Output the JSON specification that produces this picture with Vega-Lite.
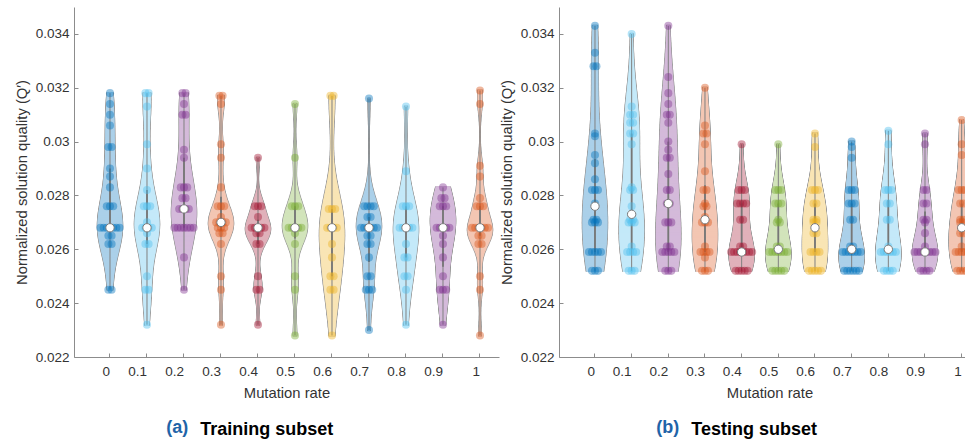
{
  "$schema": "https://vega.github.io/schema/vega-lite/v6.json",
  "padding": {"left": 14, "top": 7, "right": 0, "bottom": 0},
  "config": {
    "font": "Liberation Sans",
    "view": {"stroke": null},
    "axis": {"grid": false, "domainColor": "#8c8c8c", "tickColor": "#8c8c8c", "labelColor": "#333333", "titleColor": "#333333"},
    "concat": {"spacing": 0}
  },
  "datasets": {
    "train": [
      {"rate":0,"q":0.0318},{"rate":0,"q":0.0314},{"rate":0,"q":0.031},{"rate":0,"q":0.0306},{"rate":0,"q":0.0298},{"rate":0,"q":0.0298},{"rate":0,"q":0.029},{"rate":0,"q":0.0287},{"rate":0,"q":0.0283},{"rate":0,"q":0.0276},{"rate":0,"q":0.0276},{"rate":0,"q":0.0276},{"rate":0,"q":0.0268},{"rate":0,"q":0.0268},{"rate":0,"q":0.0268},{"rate":0,"q":0.0268},{"rate":0,"q":0.0268},{"rate":0,"q":0.0268},{"rate":0,"q":0.0268},{"rate":0,"q":0.0265},{"rate":0,"q":0.0265},{"rate":0,"q":0.0262},{"rate":0,"q":0.0262},{"rate":0,"q":0.0245},{"rate":0,"q":0.0245},
      {"rate":0.1,"q":0.0318},{"rate":0.1,"q":0.0318},{"rate":0.1,"q":0.0313},{"rate":0.1,"q":0.0299},{"rate":0.1,"q":0.029},{"rate":0.1,"q":0.0282},{"rate":0.1,"q":0.0276},{"rate":0.1,"q":0.0276},{"rate":0.1,"q":0.0276},{"rate":0.1,"q":0.027},{"rate":0.1,"q":0.0268},{"rate":0.1,"q":0.0268},{"rate":0.1,"q":0.0268},{"rate":0.1,"q":0.0268},{"rate":0.1,"q":0.0266},{"rate":0.1,"q":0.0262},{"rate":0.1,"q":0.0262},{"rate":0.1,"q":0.025},{"rate":0.1,"q":0.0245},{"rate":0.1,"q":0.0245},{"rate":0.1,"q":0.0232},
      {"rate":0.2,"q":0.0318},{"rate":0.2,"q":0.0318},{"rate":0.2,"q":0.0314},{"rate":0.2,"q":0.031},{"rate":0.2,"q":0.031},{"rate":0.2,"q":0.0297},{"rate":0.2,"q":0.0294},{"rate":0.2,"q":0.0283},{"rate":0.2,"q":0.0283},{"rate":0.2,"q":0.0283},{"rate":0.2,"q":0.0279},{"rate":0.2,"q":0.0279},{"rate":0.2,"q":0.0275},{"rate":0.2,"q":0.0275},{"rate":0.2,"q":0.0275},{"rate":0.2,"q":0.0275},{"rate":0.2,"q":0.0268},{"rate":0.2,"q":0.0268},{"rate":0.2,"q":0.0268},{"rate":0.2,"q":0.0268},{"rate":0.2,"q":0.0268},{"rate":0.2,"q":0.0268},{"rate":0.2,"q":0.0268},{"rate":0.2,"q":0.0257},{"rate":0.2,"q":0.0245},
      {"rate":0.3,"q":0.0317},{"rate":0.3,"q":0.0317},{"rate":0.3,"q":0.0314},{"rate":0.3,"q":0.0299},{"rate":0.3,"q":0.0294},{"rate":0.3,"q":0.0283},{"rate":0.3,"q":0.0276},{"rate":0.3,"q":0.0276},{"rate":0.3,"q":0.0276},{"rate":0.3,"q":0.0272},{"rate":0.3,"q":0.027},{"rate":0.3,"q":0.027},{"rate":0.3,"q":0.027},{"rate":0.3,"q":0.027},{"rate":0.3,"q":0.0268},{"rate":0.3,"q":0.0268},{"rate":0.3,"q":0.0268},{"rate":0.3,"q":0.0266},{"rate":0.3,"q":0.0266},{"rate":0.3,"q":0.0262},{"rate":0.3,"q":0.025},{"rate":0.3,"q":0.0245},{"rate":0.3,"q":0.0232},
      {"rate":0.4,"q":0.0294},{"rate":0.4,"q":0.0276},{"rate":0.4,"q":0.0276},{"rate":0.4,"q":0.0276},{"rate":0.4,"q":0.0272},{"rate":0.4,"q":0.0268},{"rate":0.4,"q":0.0268},{"rate":0.4,"q":0.0268},{"rate":0.4,"q":0.0268},{"rate":0.4,"q":0.0268},{"rate":0.4,"q":0.0266},{"rate":0.4,"q":0.0266},{"rate":0.4,"q":0.0262},{"rate":0.4,"q":0.0262},{"rate":0.4,"q":0.025},{"rate":0.4,"q":0.0245},{"rate":0.4,"q":0.0245},{"rate":0.4,"q":0.0232},
      {"rate":0.5,"q":0.0314},{"rate":0.5,"q":0.0294},{"rate":0.5,"q":0.0276},{"rate":0.5,"q":0.0276},{"rate":0.5,"q":0.0276},{"rate":0.5,"q":0.0268},{"rate":0.5,"q":0.0268},{"rate":0.5,"q":0.0268},{"rate":0.5,"q":0.0268},{"rate":0.5,"q":0.0268},{"rate":0.5,"q":0.0266},{"rate":0.5,"q":0.0262},{"rate":0.5,"q":0.025},{"rate":0.5,"q":0.0245},{"rate":0.5,"q":0.0228},
      {"rate":0.6,"q":0.0317},{"rate":0.6,"q":0.0317},{"rate":0.6,"q":0.0275},{"rate":0.6,"q":0.0275},{"rate":0.6,"q":0.0275},{"rate":0.6,"q":0.0268},{"rate":0.6,"q":0.0268},{"rate":0.6,"q":0.0268},{"rate":0.6,"q":0.0268},{"rate":0.6,"q":0.0262},{"rate":0.6,"q":0.0257},{"rate":0.6,"q":0.025},{"rate":0.6,"q":0.025},{"rate":0.6,"q":0.0245},{"rate":0.6,"q":0.0245},{"rate":0.6,"q":0.0228},
      {"rate":0.7,"q":0.0316},{"rate":0.7,"q":0.0276},{"rate":0.7,"q":0.0276},{"rate":0.7,"q":0.0276},{"rate":0.7,"q":0.0276},{"rate":0.7,"q":0.0272},{"rate":0.7,"q":0.0272},{"rate":0.7,"q":0.0268},{"rate":0.7,"q":0.0268},{"rate":0.7,"q":0.0268},{"rate":0.7,"q":0.0268},{"rate":0.7,"q":0.0268},{"rate":0.7,"q":0.0268},{"rate":0.7,"q":0.0265},{"rate":0.7,"q":0.0265},{"rate":0.7,"q":0.0262},{"rate":0.7,"q":0.0262},{"rate":0.7,"q":0.0257},{"rate":0.7,"q":0.025},{"rate":0.7,"q":0.025},{"rate":0.7,"q":0.0245},{"rate":0.7,"q":0.0245},{"rate":0.7,"q":0.0245},{"rate":0.7,"q":0.023},
      {"rate":0.8,"q":0.0313},{"rate":0.8,"q":0.0289},{"rate":0.8,"q":0.0276},{"rate":0.8,"q":0.0276},{"rate":0.8,"q":0.0276},{"rate":0.8,"q":0.0268},{"rate":0.8,"q":0.0268},{"rate":0.8,"q":0.0268},{"rate":0.8,"q":0.0268},{"rate":0.8,"q":0.0268},{"rate":0.8,"q":0.0262},{"rate":0.8,"q":0.0257},{"rate":0.8,"q":0.0257},{"rate":0.8,"q":0.025},{"rate":0.8,"q":0.025},{"rate":0.8,"q":0.0245},{"rate":0.8,"q":0.0232},
      {"rate":0.9,"q":0.0283},{"rate":0.9,"q":0.0279},{"rate":0.9,"q":0.0279},{"rate":0.9,"q":0.0276},{"rate":0.9,"q":0.0276},{"rate":0.9,"q":0.0276},{"rate":0.9,"q":0.0268},{"rate":0.9,"q":0.0268},{"rate":0.9,"q":0.0268},{"rate":0.9,"q":0.0268},{"rate":0.9,"q":0.0268},{"rate":0.9,"q":0.0265},{"rate":0.9,"q":0.0262},{"rate":0.9,"q":0.0257},{"rate":0.9,"q":0.025},{"rate":0.9,"q":0.0245},{"rate":0.9,"q":0.0245},{"rate":0.9,"q":0.0245},{"rate":0.9,"q":0.0232},
      {"rate":1,"q":0.0319},{"rate":1,"q":0.0314},{"rate":1,"q":0.0291},{"rate":1,"q":0.0287},{"rate":1,"q":0.0279},{"rate":1,"q":0.0276},{"rate":1,"q":0.0276},{"rate":1,"q":0.0276},{"rate":1,"q":0.0268},{"rate":1,"q":0.0268},{"rate":1,"q":0.0268},{"rate":1,"q":0.0268},{"rate":1,"q":0.0268},{"rate":1,"q":0.0268},{"rate":1,"q":0.0265},{"rate":1,"q":0.0265},{"rate":1,"q":0.0262},{"rate":1,"q":0.0262},{"rate":1,"q":0.025},{"rate":1,"q":0.0245},{"rate":1,"q":0.0228}
    ],
    "test": [
      {"rate":0,"q":0.0343},{"rate":0,"q":0.0333},{"rate":0,"q":0.0328},{"rate":0,"q":0.0328},{"rate":0,"q":0.0303},{"rate":0,"q":0.0302},{"rate":0,"q":0.0295},{"rate":0,"q":0.0292},{"rate":0,"q":0.0286},{"rate":0,"q":0.0282},{"rate":0,"q":0.0282},{"rate":0,"q":0.0282},{"rate":0,"q":0.0277},{"rate":0,"q":0.0276},{"rate":0,"q":0.0271},{"rate":0,"q":0.0271},{"rate":0,"q":0.027},{"rate":0,"q":0.027},{"rate":0,"q":0.027},{"rate":0,"q":0.0259},{"rate":0,"q":0.0259},{"rate":0,"q":0.0259},{"rate":0,"q":0.0259},{"rate":0,"q":0.0259},{"rate":0,"q":0.0252},{"rate":0,"q":0.0252},{"rate":0,"q":0.0252},
      {"rate":0.1,"q":0.034},{"rate":0.1,"q":0.0313},{"rate":0.1,"q":0.031},{"rate":0.1,"q":0.031},{"rate":0.1,"q":0.0307},{"rate":0.1,"q":0.0307},{"rate":0.1,"q":0.0303},{"rate":0.1,"q":0.0303},{"rate":0.1,"q":0.0299},{"rate":0.1,"q":0.0283},{"rate":0.1,"q":0.0282},{"rate":0.1,"q":0.0282},{"rate":0.1,"q":0.0276},{"rate":0.1,"q":0.0273},{"rate":0.1,"q":0.0271},{"rate":0.1,"q":0.0271},{"rate":0.1,"q":0.027},{"rate":0.1,"q":0.027},{"rate":0.1,"q":0.027},{"rate":0.1,"q":0.0261},{"rate":0.1,"q":0.0259},{"rate":0.1,"q":0.0259},{"rate":0.1,"q":0.0259},{"rate":0.1,"q":0.0259},{"rate":0.1,"q":0.0252},{"rate":0.1,"q":0.0252},{"rate":0.1,"q":0.0252},
      {"rate":0.2,"q":0.0343},{"rate":0.2,"q":0.0324},{"rate":0.2,"q":0.0318},{"rate":0.2,"q":0.0314},{"rate":0.2,"q":0.031},{"rate":0.2,"q":0.031},{"rate":0.2,"q":0.0307},{"rate":0.2,"q":0.03},{"rate":0.2,"q":0.0297},{"rate":0.2,"q":0.0294},{"rate":0.2,"q":0.0294},{"rate":0.2,"q":0.0288},{"rate":0.2,"q":0.0282},{"rate":0.2,"q":0.0282},{"rate":0.2,"q":0.0277},{"rate":0.2,"q":0.0277},{"rate":0.2,"q":0.027},{"rate":0.2,"q":0.027},{"rate":0.2,"q":0.027},{"rate":0.2,"q":0.0261},{"rate":0.2,"q":0.0261},{"rate":0.2,"q":0.0259},{"rate":0.2,"q":0.0259},{"rate":0.2,"q":0.0259},{"rate":0.2,"q":0.0259},{"rate":0.2,"q":0.0259},{"rate":0.2,"q":0.0252},{"rate":0.2,"q":0.0252},{"rate":0.2,"q":0.0252},
      {"rate":0.3,"q":0.032},{"rate":0.3,"q":0.0306},{"rate":0.3,"q":0.0303},{"rate":0.3,"q":0.0303},{"rate":0.3,"q":0.0299},{"rate":0.3,"q":0.0289},{"rate":0.3,"q":0.0282},{"rate":0.3,"q":0.0282},{"rate":0.3,"q":0.0277},{"rate":0.3,"q":0.0276},{"rate":0.3,"q":0.0276},{"rate":0.3,"q":0.0272},{"rate":0.3,"q":0.027},{"rate":0.3,"q":0.027},{"rate":0.3,"q":0.027},{"rate":0.3,"q":0.0261},{"rate":0.3,"q":0.0259},{"rate":0.3,"q":0.0259},{"rate":0.3,"q":0.0259},{"rate":0.3,"q":0.0259},{"rate":0.3,"q":0.0257},{"rate":0.3,"q":0.0252},{"rate":0.3,"q":0.0252},{"rate":0.3,"q":0.0252},
      {"rate":0.4,"q":0.0299},{"rate":0.4,"q":0.0282},{"rate":0.4,"q":0.0282},{"rate":0.4,"q":0.0282},{"rate":0.4,"q":0.0277},{"rate":0.4,"q":0.0277},{"rate":0.4,"q":0.0277},{"rate":0.4,"q":0.0277},{"rate":0.4,"q":0.0271},{"rate":0.4,"q":0.0271},{"rate":0.4,"q":0.0261},{"rate":0.4,"q":0.0261},{"rate":0.4,"q":0.0259},{"rate":0.4,"q":0.0259},{"rate":0.4,"q":0.0259},{"rate":0.4,"q":0.0259},{"rate":0.4,"q":0.0259},{"rate":0.4,"q":0.0259},{"rate":0.4,"q":0.0259},{"rate":0.4,"q":0.0259},{"rate":0.4,"q":0.0252},{"rate":0.4,"q":0.0252},{"rate":0.4,"q":0.0252},{"rate":0.4,"q":0.0252},{"rate":0.4,"q":0.0252},
      {"rate":0.5,"q":0.0299},{"rate":0.5,"q":0.0282},{"rate":0.5,"q":0.0282},{"rate":0.5,"q":0.0282},{"rate":0.5,"q":0.0277},{"rate":0.5,"q":0.0277},{"rate":0.5,"q":0.0277},{"rate":0.5,"q":0.0271},{"rate":0.5,"q":0.027},{"rate":0.5,"q":0.027},{"rate":0.5,"q":0.0261},{"rate":0.5,"q":0.0261},{"rate":0.5,"q":0.0259},{"rate":0.5,"q":0.0259},{"rate":0.5,"q":0.0259},{"rate":0.5,"q":0.0259},{"rate":0.5,"q":0.0259},{"rate":0.5,"q":0.0259},{"rate":0.5,"q":0.0259},{"rate":0.5,"q":0.0252},{"rate":0.5,"q":0.0252},{"rate":0.5,"q":0.0252},{"rate":0.5,"q":0.0252},{"rate":0.5,"q":0.0252},
      {"rate":0.6,"q":0.0303},{"rate":0.6,"q":0.0298},{"rate":0.6,"q":0.0282},{"rate":0.6,"q":0.0282},{"rate":0.6,"q":0.0282},{"rate":0.6,"q":0.0277},{"rate":0.6,"q":0.0277},{"rate":0.6,"q":0.0271},{"rate":0.6,"q":0.0271},{"rate":0.6,"q":0.027},{"rate":0.6,"q":0.027},{"rate":0.6,"q":0.0266},{"rate":0.6,"q":0.0266},{"rate":0.6,"q":0.0259},{"rate":0.6,"q":0.0259},{"rate":0.6,"q":0.0259},{"rate":0.6,"q":0.0259},{"rate":0.6,"q":0.0252},{"rate":0.6,"q":0.0252},{"rate":0.6,"q":0.0252},{"rate":0.6,"q":0.0252},{"rate":0.6,"q":0.0252},
      {"rate":0.7,"q":0.03},{"rate":0.7,"q":0.0298},{"rate":0.7,"q":0.0294},{"rate":0.7,"q":0.0282},{"rate":0.7,"q":0.0282},{"rate":0.7,"q":0.0282},{"rate":0.7,"q":0.0277},{"rate":0.7,"q":0.0277},{"rate":0.7,"q":0.0277},{"rate":0.7,"q":0.0271},{"rate":0.7,"q":0.0271},{"rate":0.7,"q":0.0261},{"rate":0.7,"q":0.0261},{"rate":0.7,"q":0.0259},{"rate":0.7,"q":0.0259},{"rate":0.7,"q":0.0259},{"rate":0.7,"q":0.0259},{"rate":0.7,"q":0.0259},{"rate":0.7,"q":0.0259},{"rate":0.7,"q":0.0259},{"rate":0.7,"q":0.0252},{"rate":0.7,"q":0.0252},{"rate":0.7,"q":0.0252},{"rate":0.7,"q":0.0252},{"rate":0.7,"q":0.0252},{"rate":0.7,"q":0.0252},
      {"rate":0.8,"q":0.0304},{"rate":0.8,"q":0.0299},{"rate":0.8,"q":0.0282},{"rate":0.8,"q":0.0282},{"rate":0.8,"q":0.0282},{"rate":0.8,"q":0.0277},{"rate":0.8,"q":0.0277},{"rate":0.8,"q":0.0271},{"rate":0.8,"q":0.0271},{"rate":0.8,"q":0.0261},{"rate":0.8,"q":0.0259},{"rate":0.8,"q":0.0259},{"rate":0.8,"q":0.0259},{"rate":0.8,"q":0.0259},{"rate":0.8,"q":0.0259},{"rate":0.8,"q":0.0259},{"rate":0.8,"q":0.0252},{"rate":0.8,"q":0.0252},{"rate":0.8,"q":0.0252},{"rate":0.8,"q":0.0252},
      {"rate":0.9,"q":0.0303},{"rate":0.9,"q":0.0299},{"rate":0.9,"q":0.0282},{"rate":0.9,"q":0.0282},{"rate":0.9,"q":0.0277},{"rate":0.9,"q":0.0277},{"rate":0.9,"q":0.0271},{"rate":0.9,"q":0.0271},{"rate":0.9,"q":0.027},{"rate":0.9,"q":0.0266},{"rate":0.9,"q":0.0261},{"rate":0.9,"q":0.0259},{"rate":0.9,"q":0.0259},{"rate":0.9,"q":0.0259},{"rate":0.9,"q":0.0259},{"rate":0.9,"q":0.0259},{"rate":0.9,"q":0.0259},{"rate":0.9,"q":0.0259},{"rate":0.9,"q":0.0259},{"rate":0.9,"q":0.0252},{"rate":0.9,"q":0.0252},{"rate":0.9,"q":0.0252},{"rate":0.9,"q":0.0252},
      {"rate":1,"q":0.0308},{"rate":1,"q":0.0299},{"rate":1,"q":0.0295},{"rate":1,"q":0.0282},{"rate":1,"q":0.0282},{"rate":1,"q":0.0282},{"rate":1,"q":0.0277},{"rate":1,"q":0.0277},{"rate":1,"q":0.0271},{"rate":1,"q":0.0271},{"rate":1,"q":0.027},{"rate":1,"q":0.027},{"rate":1,"q":0.0268},{"rate":1,"q":0.0266},{"rate":1,"q":0.0266},{"rate":1,"q":0.0261},{"rate":1,"q":0.0259},{"rate":1,"q":0.0259},{"rate":1,"q":0.0259},{"rate":1,"q":0.0259},{"rate":1,"q":0.0259},{"rate":1,"q":0.0252},{"rate":1,"q":0.0252},{"rate":1,"q":0.0252},{"rate":1,"q":0.0252}
    ]
  },
  "hconcat": [
    {
      "title": {"text": "(a)", "orient": "bottom", "anchor": "start", "color": "#1f64a8", "fontSize": 18, "fontWeight": "bold", "dx": 152, "dy": -24},
      "vconcat": [
        {
          "data": {"name": "train"},
          "width": 425, "height": 350,
          "title": {"text": "Training subset", "orient": "bottom", "anchor": "start", "color": "#000000", "fontSize": 18, "fontWeight": "bold", "dx": 186, "offset": 21},
          "resolve": {"scale": {"size": "independent"}},
          "layer": [
            {"transform": [{"filter": {"field": "rate", "equal": 0}}, {"density": "q", "groupby": ["rate"], "steps": 200, "as": ["value", "density"]}], "resolve": {"scale": {"size": "independent"}}, "layer": [
              {"mark": {"type": "tick", "orient": "horizontal", "thickness": 2, "color": "#8f8f8f", "opacity": 1}, "encoding": {"x": {"field": "rate", "type": "ordinal"}, "y": {"field": "value", "type": "quantitative", "scale": {"domain": [0.022, 0.035], "nice": false, "zero": false}}, "size": {"field": "density", "type": "quantitative", "scale": {"range": [1.4, 26.4]}, "legend": null}}},
              {"mark": {"type": "tick", "orient": "horizontal", "thickness": 2.4, "color": "#ABD0E9", "opacity": 1}, "encoding": {"x": {"field": "rate", "type": "ordinal"}, "y": {"field": "value", "type": "quantitative", "scale": {"domain": [0.022, 0.035], "nice": false, "zero": false}}, "size": {"field": "density", "type": "quantitative", "scale": {"range": [0, 25]}, "legend": null}}}]},
            {"transform": [{"filter": {"field": "rate", "equal": 0.1}}, {"density": "q", "groupby": ["rate"], "steps": 200, "as": ["value", "density"]}], "resolve": {"scale": {"size": "independent"}}, "layer": [
              {"mark": {"type": "tick", "orient": "horizontal", "thickness": 2, "color": "#8f8f8f", "opacity": 1}, "encoding": {"x": {"field": "rate", "type": "ordinal"}, "y": {"field": "value", "type": "quantitative", "scale": {"domain": [0.022, 0.035], "nice": false, "zero": false}}, "size": {"field": "density", "type": "quantitative", "scale": {"range": [1.4, 26.4]}, "legend": null}}},
              {"mark": {"type": "tick", "orient": "horizontal", "thickness": 2.4, "color": "#C4E9F9", "opacity": 1}, "encoding": {"x": {"field": "rate", "type": "ordinal"}, "y": {"field": "value", "type": "quantitative", "scale": {"domain": [0.022, 0.035], "nice": false, "zero": false}}, "size": {"field": "density", "type": "quantitative", "scale": {"range": [0, 25]}, "legend": null}}}]},
            {"transform": [{"filter": {"field": "rate", "equal": 0.2}}, {"density": "q", "groupby": ["rate"], "steps": 200, "as": ["value", "density"]}], "resolve": {"scale": {"size": "independent"}}, "layer": [
              {"mark": {"type": "tick", "orient": "horizontal", "thickness": 2, "color": "#8f8f8f", "opacity": 1}, "encoding": {"x": {"field": "rate", "type": "ordinal"}, "y": {"field": "value", "type": "quantitative", "scale": {"domain": [0.022, 0.035], "nice": false, "zero": false}}, "size": {"field": "density", "type": "quantitative", "scale": {"range": [1.4, 26.4]}, "legend": null}}},
              {"mark": {"type": "tick", "orient": "horizontal", "thickness": 2.4, "color": "#D4BADA", "opacity": 1}, "encoding": {"x": {"field": "rate", "type": "ordinal"}, "y": {"field": "value", "type": "quantitative", "scale": {"domain": [0.022, 0.035], "nice": false, "zero": false}}, "size": {"field": "density", "type": "quantitative", "scale": {"range": [0, 25]}, "legend": null}}}]},
            {"transform": [{"filter": {"field": "rate", "equal": 0.3}}, {"density": "q", "groupby": ["rate"], "steps": 200, "as": ["value", "density"]}], "resolve": {"scale": {"size": "independent"}}, "layer": [
              {"mark": {"type": "tick", "orient": "horizontal", "thickness": 2, "color": "#8f8f8f", "opacity": 1}, "encoding": {"x": {"field": "rate", "type": "ordinal"}, "y": {"field": "value", "type": "quantitative", "scale": {"domain": [0.022, 0.035], "nice": false, "zero": false}}, "size": {"field": "density", "type": "quantitative", "scale": {"range": [1.4, 26.4]}, "legend": null}}},
              {"mark": {"type": "tick", "orient": "horizontal", "thickness": 2.4, "color": "#F3C6B3", "opacity": 1}, "encoding": {"x": {"field": "rate", "type": "ordinal"}, "y": {"field": "value", "type": "quantitative", "scale": {"domain": [0.022, 0.035], "nice": false, "zero": false}}, "size": {"field": "density", "type": "quantitative", "scale": {"range": [0, 25]}, "legend": null}}}]},
            {"transform": [{"filter": {"field": "rate", "equal": 0.4}}, {"density": "q", "groupby": ["rate"], "steps": 200, "as": ["value", "density"]}], "resolve": {"scale": {"size": "independent"}}, "layer": [
              {"mark": {"type": "tick", "orient": "horizontal", "thickness": 2, "color": "#8f8f8f", "opacity": 1}, "encoding": {"x": {"field": "rate", "type": "ordinal"}, "y": {"field": "value", "type": "quantitative", "scale": {"domain": [0.022, 0.035], "nice": false, "zero": false}}, "size": {"field": "density", "type": "quantitative", "scale": {"range": [1.4, 26.4]}, "legend": null}}},
              {"mark": {"type": "tick", "orient": "horizontal", "thickness": 2.4, "color": "#E0B1BA", "opacity": 1}, "encoding": {"x": {"field": "rate", "type": "ordinal"}, "y": {"field": "value", "type": "quantitative", "scale": {"domain": [0.022, 0.035], "nice": false, "zero": false}}, "size": {"field": "density", "type": "quantitative", "scale": {"range": [0, 25]}, "legend": null}}}]},
            {"transform": [{"filter": {"field": "rate", "equal": 0.5}}, {"density": "q", "groupby": ["rate"], "steps": 200, "as": ["value", "density"]}], "resolve": {"scale": {"size": "independent"}}, "layer": [
              {"mark": {"type": "tick", "orient": "horizontal", "thickness": 2, "color": "#8f8f8f", "opacity": 1}, "encoding": {"x": {"field": "rate", "type": "ordinal"}, "y": {"field": "value", "type": "quantitative", "scale": {"domain": [0.022, 0.035], "nice": false, "zero": false}}, "size": {"field": "density", "type": "quantitative", "scale": {"range": [1.4, 26.4]}, "legend": null}}},
              {"mark": {"type": "tick", "orient": "horizontal", "thickness": 2.4, "color": "#D2E4BB", "opacity": 1}, "encoding": {"x": {"field": "rate", "type": "ordinal"}, "y": {"field": "value", "type": "quantitative", "scale": {"domain": [0.022, 0.035], "nice": false, "zero": false}}, "size": {"field": "density", "type": "quantitative", "scale": {"range": [0, 25]}, "legend": null}}}]},
            {"transform": [{"filter": {"field": "rate", "equal": 0.6}}, {"density": "q", "groupby": ["rate"], "steps": 200, "as": ["value", "density"]}], "resolve": {"scale": {"size": "independent"}}, "layer": [
              {"mark": {"type": "tick", "orient": "horizontal", "thickness": 2, "color": "#8f8f8f", "opacity": 1}, "encoding": {"x": {"field": "rate", "type": "ordinal"}, "y": {"field": "value", "type": "quantitative", "scale": {"domain": [0.022, 0.035], "nice": false, "zero": false}}, "size": {"field": "density", "type": "quantitative", "scale": {"range": [1.4, 26.4]}, "legend": null}}},
              {"mark": {"type": "tick", "orient": "horizontal", "thickness": 2.4, "color": "#F9E5B5", "opacity": 1}, "encoding": {"x": {"field": "rate", "type": "ordinal"}, "y": {"field": "value", "type": "quantitative", "scale": {"domain": [0.022, 0.035], "nice": false, "zero": false}}, "size": {"field": "density", "type": "quantitative", "scale": {"range": [0, 25]}, "legend": null}}}]},
            {"transform": [{"filter": {"field": "rate", "equal": 0.7}}, {"density": "q", "groupby": ["rate"], "steps": 200, "as": ["value", "density"]}], "resolve": {"scale": {"size": "independent"}}, "layer": [
              {"mark": {"type": "tick", "orient": "horizontal", "thickness": 2, "color": "#8f8f8f", "opacity": 1}, "encoding": {"x": {"field": "rate", "type": "ordinal"}, "y": {"field": "value", "type": "quantitative", "scale": {"domain": [0.022, 0.035], "nice": false, "zero": false}}, "size": {"field": "density", "type": "quantitative", "scale": {"range": [1.4, 26.4]}, "legend": null}}},
              {"mark": {"type": "tick", "orient": "horizontal", "thickness": 2.4, "color": "#ABD0E9", "opacity": 1}, "encoding": {"x": {"field": "rate", "type": "ordinal"}, "y": {"field": "value", "type": "quantitative", "scale": {"domain": [0.022, 0.035], "nice": false, "zero": false}}, "size": {"field": "density", "type": "quantitative", "scale": {"range": [0, 25]}, "legend": null}}}]},
            {"transform": [{"filter": {"field": "rate", "equal": 0.8}}, {"density": "q", "groupby": ["rate"], "steps": 200, "as": ["value", "density"]}], "resolve": {"scale": {"size": "independent"}}, "layer": [
              {"mark": {"type": "tick", "orient": "horizontal", "thickness": 2, "color": "#8f8f8f", "opacity": 1}, "encoding": {"x": {"field": "rate", "type": "ordinal"}, "y": {"field": "value", "type": "quantitative", "scale": {"domain": [0.022, 0.035], "nice": false, "zero": false}}, "size": {"field": "density", "type": "quantitative", "scale": {"range": [1.4, 26.4]}, "legend": null}}},
              {"mark": {"type": "tick", "orient": "horizontal", "thickness": 2.4, "color": "#C4E9F9", "opacity": 1}, "encoding": {"x": {"field": "rate", "type": "ordinal"}, "y": {"field": "value", "type": "quantitative", "scale": {"domain": [0.022, 0.035], "nice": false, "zero": false}}, "size": {"field": "density", "type": "quantitative", "scale": {"range": [0, 25]}, "legend": null}}}]},
            {"transform": [{"filter": {"field": "rate", "equal": 0.9}}, {"density": "q", "groupby": ["rate"], "steps": 200, "as": ["value", "density"]}], "resolve": {"scale": {"size": "independent"}}, "layer": [
              {"mark": {"type": "tick", "orient": "horizontal", "thickness": 2, "color": "#8f8f8f", "opacity": 1}, "encoding": {"x": {"field": "rate", "type": "ordinal"}, "y": {"field": "value", "type": "quantitative", "scale": {"domain": [0.022, 0.035], "nice": false, "zero": false}}, "size": {"field": "density", "type": "quantitative", "scale": {"range": [1.4, 26.4]}, "legend": null}}},
              {"mark": {"type": "tick", "orient": "horizontal", "thickness": 2.4, "color": "#D4BADA", "opacity": 1}, "encoding": {"x": {"field": "rate", "type": "ordinal"}, "y": {"field": "value", "type": "quantitative", "scale": {"domain": [0.022, 0.035], "nice": false, "zero": false}}, "size": {"field": "density", "type": "quantitative", "scale": {"range": [0, 25]}, "legend": null}}}]},
            {"transform": [{"filter": {"field": "rate", "equal": 1}}, {"density": "q", "groupby": ["rate"], "steps": 200, "as": ["value", "density"]}], "resolve": {"scale": {"size": "independent"}}, "layer": [
              {"mark": {"type": "tick", "orient": "horizontal", "thickness": 2, "color": "#8f8f8f", "opacity": 1}, "encoding": {"x": {"field": "rate", "type": "ordinal"}, "y": {"field": "value", "type": "quantitative", "scale": {"domain": [0.022, 0.035], "nice": false, "zero": false}}, "size": {"field": "density", "type": "quantitative", "scale": {"range": [1.4, 26.4]}, "legend": null}}},
              {"mark": {"type": "tick", "orient": "horizontal", "thickness": 2.4, "color": "#F3C6B3", "opacity": 1}, "encoding": {"x": {"field": "rate", "type": "ordinal"}, "y": {"field": "value", "type": "quantitative", "scale": {"domain": [0.022, 0.035], "nice": false, "zero": false}}, "size": {"field": "density", "type": "quantitative", "scale": {"range": [0, 25]}, "legend": null}}}]},
            {
              "transform": [{"aggregate": [{"op": "min", "field": "q", "as": "lo"}, {"op": "max", "field": "q", "as": "hi"}, {"op": "q1", "field": "q", "as": "b1"}, {"op": "q3", "field": "q", "as": "b3"}], "groupby": ["rate"]}],
              "layer": [
                {"mark": {"type": "rule", "color": "#808080", "strokeWidth": 1}, "encoding": {"x": {"field": "rate", "type": "ordinal"}, "y": {"field": "lo", "type": "quantitative", "scale": {"domain": [0.022, 0.035], "nice": false, "zero": false}}, "y2": {"field": "hi"}}},
                {"mark": {"type": "rule", "color": "#777777", "strokeWidth": 1.8}, "encoding": {"x": {"field": "rate", "type": "ordinal"}, "y": {"field": "b1", "type": "quantitative", "scale": {"domain": [0.022, 0.035], "nice": false, "zero": false}}, "y2": {"field": "b3"}}}
              ]
            },
            {
              "transform": [
                {"window": [{"op": "count", "as": "one"}], "frame": [0, 0], "groupby": ["rate"]},
                {"stack": "one", "groupby": ["rate", "q"], "offset": "center", "as": ["s0", "s1"]}
              ],
              "mark": {"type": "circle", "size": 65, "opacity": 0.42, "xOffset": {"expr": "(datum.s0 - 3) * 3.2"}},
              "encoding": {
                "x": {"field": "rate", "type": "ordinal", "scale": {"type": "band", "paddingInner": 0, "paddingOuter": 0.2432, "align": 0.972},
                  "axis": {"title": "Mutation rate", "labelAngle": 0, "tickSize": -4, "labelPadding": 18, "labelFontSize": 13.5, "titleFontSize": 14.8, "titleFontWeight": "normal", "titlePadding": 8}},
                "y": {"field": "q", "type": "quantitative", "scale": {"domain": [0.022, 0.035], "nice": false, "zero": false},
                  "axis": {"title": "Normalized solution quality (Q′)", "values": [0.022, 0.024, 0.026, 0.028, 0.03, 0.032, 0.034], "format": ".3~f", "tickSize": -4, "labelPadding": 9, "labelFontSize": 13.5, "titleFontSize": 14.8, "titleFontWeight": "normal", "titlePadding": 6}},
                "color": {"field": "rate", "type": "nominal", "legend": null, "scale": {"domain": [0, 0.1, 0.2, 0.3, 0.4, 0.5, 0.6, 0.7, 0.8, 0.9, 1], "range": ["#0072BD", "#4DBEEE", "#7E2F8E", "#D95319", "#A2142F", "#77AC30", "#EDB120", "#0072BD", "#4DBEEE", "#7E2F8E", "#D95319"]}}
              }
            },
            {
              "transform": [{"aggregate": [{"op": "median", "field": "q", "as": "med"}], "groupby": ["rate"]}],
              "mark": {"type": "point", "filled": true, "fill": "#ffffff", "stroke": "#7a7a7a", "strokeWidth": 1, "size": 70, "opacity": 1},
              "encoding": {"x": {"field": "rate", "type": "ordinal"}, "y": {"field": "med", "type": "quantitative", "scale": {"domain": [0.022, 0.035], "nice": false, "zero": false}}}
            }
          ]
        }
      ]
    },
    {
      "title": {"text": "(b)", "orient": "bottom", "anchor": "start", "color": "#1f64a8", "fontSize": 18, "fontWeight": "bold", "dx": 157, "dy": -24},
      "vconcat": [
        {
          "data": {"name": "test"},
          "width": 421, "height": 350,
          "title": {"text": "Testing subset", "orient": "bottom", "anchor": "start", "color": "#000000", "fontSize": 18, "fontWeight": "bold", "dx": 192, "offset": 21},
          "resolve": {"scale": {"size": "independent"}},
          "layer": [
            {"transform": [{"filter": {"field": "rate", "equal": 0}}, {"density": "q", "groupby": ["rate"], "steps": 200, "as": ["value", "density"]}], "resolve": {"scale": {"size": "independent"}}, "layer": [
              {"mark": {"type": "tick", "orient": "horizontal", "thickness": 2, "color": "#8f8f8f", "opacity": 1}, "encoding": {"x": {"field": "rate", "type": "ordinal"}, "y": {"field": "value", "type": "quantitative", "scale": {"domain": [0.022, 0.035], "nice": false, "zero": false}}, "size": {"field": "density", "type": "quantitative", "scale": {"range": [1.4, 26.4]}, "legend": null}}},
              {"mark": {"type": "tick", "orient": "horizontal", "thickness": 2.4, "color": "#ABD0E9", "opacity": 1}, "encoding": {"x": {"field": "rate", "type": "ordinal"}, "y": {"field": "value", "type": "quantitative", "scale": {"domain": [0.022, 0.035], "nice": false, "zero": false}}, "size": {"field": "density", "type": "quantitative", "scale": {"range": [0, 25]}, "legend": null}}}]},
            {"transform": [{"filter": {"field": "rate", "equal": 0.1}}, {"density": "q", "groupby": ["rate"], "steps": 200, "as": ["value", "density"]}], "resolve": {"scale": {"size": "independent"}}, "layer": [
              {"mark": {"type": "tick", "orient": "horizontal", "thickness": 2, "color": "#8f8f8f", "opacity": 1}, "encoding": {"x": {"field": "rate", "type": "ordinal"}, "y": {"field": "value", "type": "quantitative", "scale": {"domain": [0.022, 0.035], "nice": false, "zero": false}}, "size": {"field": "density", "type": "quantitative", "scale": {"range": [1.4, 26.4]}, "legend": null}}},
              {"mark": {"type": "tick", "orient": "horizontal", "thickness": 2.4, "color": "#C4E9F9", "opacity": 1}, "encoding": {"x": {"field": "rate", "type": "ordinal"}, "y": {"field": "value", "type": "quantitative", "scale": {"domain": [0.022, 0.035], "nice": false, "zero": false}}, "size": {"field": "density", "type": "quantitative", "scale": {"range": [0, 25]}, "legend": null}}}]},
            {"transform": [{"filter": {"field": "rate", "equal": 0.2}}, {"density": "q", "groupby": ["rate"], "steps": 200, "as": ["value", "density"]}], "resolve": {"scale": {"size": "independent"}}, "layer": [
              {"mark": {"type": "tick", "orient": "horizontal", "thickness": 2, "color": "#8f8f8f", "opacity": 1}, "encoding": {"x": {"field": "rate", "type": "ordinal"}, "y": {"field": "value", "type": "quantitative", "scale": {"domain": [0.022, 0.035], "nice": false, "zero": false}}, "size": {"field": "density", "type": "quantitative", "scale": {"range": [1.4, 26.4]}, "legend": null}}},
              {"mark": {"type": "tick", "orient": "horizontal", "thickness": 2.4, "color": "#D4BADA", "opacity": 1}, "encoding": {"x": {"field": "rate", "type": "ordinal"}, "y": {"field": "value", "type": "quantitative", "scale": {"domain": [0.022, 0.035], "nice": false, "zero": false}}, "size": {"field": "density", "type": "quantitative", "scale": {"range": [0, 25]}, "legend": null}}}]},
            {"transform": [{"filter": {"field": "rate", "equal": 0.3}}, {"density": "q", "groupby": ["rate"], "steps": 200, "as": ["value", "density"]}], "resolve": {"scale": {"size": "independent"}}, "layer": [
              {"mark": {"type": "tick", "orient": "horizontal", "thickness": 2, "color": "#8f8f8f", "opacity": 1}, "encoding": {"x": {"field": "rate", "type": "ordinal"}, "y": {"field": "value", "type": "quantitative", "scale": {"domain": [0.022, 0.035], "nice": false, "zero": false}}, "size": {"field": "density", "type": "quantitative", "scale": {"range": [1.4, 26.4]}, "legend": null}}},
              {"mark": {"type": "tick", "orient": "horizontal", "thickness": 2.4, "color": "#F3C6B3", "opacity": 1}, "encoding": {"x": {"field": "rate", "type": "ordinal"}, "y": {"field": "value", "type": "quantitative", "scale": {"domain": [0.022, 0.035], "nice": false, "zero": false}}, "size": {"field": "density", "type": "quantitative", "scale": {"range": [0, 25]}, "legend": null}}}]},
            {"transform": [{"filter": {"field": "rate", "equal": 0.4}}, {"density": "q", "groupby": ["rate"], "steps": 200, "as": ["value", "density"]}], "resolve": {"scale": {"size": "independent"}}, "layer": [
              {"mark": {"type": "tick", "orient": "horizontal", "thickness": 2, "color": "#8f8f8f", "opacity": 1}, "encoding": {"x": {"field": "rate", "type": "ordinal"}, "y": {"field": "value", "type": "quantitative", "scale": {"domain": [0.022, 0.035], "nice": false, "zero": false}}, "size": {"field": "density", "type": "quantitative", "scale": {"range": [1.4, 26.4]}, "legend": null}}},
              {"mark": {"type": "tick", "orient": "horizontal", "thickness": 2.4, "color": "#E0B1BA", "opacity": 1}, "encoding": {"x": {"field": "rate", "type": "ordinal"}, "y": {"field": "value", "type": "quantitative", "scale": {"domain": [0.022, 0.035], "nice": false, "zero": false}}, "size": {"field": "density", "type": "quantitative", "scale": {"range": [0, 25]}, "legend": null}}}]},
            {"transform": [{"filter": {"field": "rate", "equal": 0.5}}, {"density": "q", "groupby": ["rate"], "steps": 200, "as": ["value", "density"]}], "resolve": {"scale": {"size": "independent"}}, "layer": [
              {"mark": {"type": "tick", "orient": "horizontal", "thickness": 2, "color": "#8f8f8f", "opacity": 1}, "encoding": {"x": {"field": "rate", "type": "ordinal"}, "y": {"field": "value", "type": "quantitative", "scale": {"domain": [0.022, 0.035], "nice": false, "zero": false}}, "size": {"field": "density", "type": "quantitative", "scale": {"range": [1.4, 26.4]}, "legend": null}}},
              {"mark": {"type": "tick", "orient": "horizontal", "thickness": 2.4, "color": "#D2E4BB", "opacity": 1}, "encoding": {"x": {"field": "rate", "type": "ordinal"}, "y": {"field": "value", "type": "quantitative", "scale": {"domain": [0.022, 0.035], "nice": false, "zero": false}}, "size": {"field": "density", "type": "quantitative", "scale": {"range": [0, 25]}, "legend": null}}}]},
            {"transform": [{"filter": {"field": "rate", "equal": 0.6}}, {"density": "q", "groupby": ["rate"], "steps": 200, "as": ["value", "density"]}], "resolve": {"scale": {"size": "independent"}}, "layer": [
              {"mark": {"type": "tick", "orient": "horizontal", "thickness": 2, "color": "#8f8f8f", "opacity": 1}, "encoding": {"x": {"field": "rate", "type": "ordinal"}, "y": {"field": "value", "type": "quantitative", "scale": {"domain": [0.022, 0.035], "nice": false, "zero": false}}, "size": {"field": "density", "type": "quantitative", "scale": {"range": [1.4, 26.4]}, "legend": null}}},
              {"mark": {"type": "tick", "orient": "horizontal", "thickness": 2.4, "color": "#F9E5B5", "opacity": 1}, "encoding": {"x": {"field": "rate", "type": "ordinal"}, "y": {"field": "value", "type": "quantitative", "scale": {"domain": [0.022, 0.035], "nice": false, "zero": false}}, "size": {"field": "density", "type": "quantitative", "scale": {"range": [0, 25]}, "legend": null}}}]},
            {"transform": [{"filter": {"field": "rate", "equal": 0.7}}, {"density": "q", "groupby": ["rate"], "steps": 200, "as": ["value", "density"]}], "resolve": {"scale": {"size": "independent"}}, "layer": [
              {"mark": {"type": "tick", "orient": "horizontal", "thickness": 2, "color": "#8f8f8f", "opacity": 1}, "encoding": {"x": {"field": "rate", "type": "ordinal"}, "y": {"field": "value", "type": "quantitative", "scale": {"domain": [0.022, 0.035], "nice": false, "zero": false}}, "size": {"field": "density", "type": "quantitative", "scale": {"range": [1.4, 26.4]}, "legend": null}}},
              {"mark": {"type": "tick", "orient": "horizontal", "thickness": 2.4, "color": "#ABD0E9", "opacity": 1}, "encoding": {"x": {"field": "rate", "type": "ordinal"}, "y": {"field": "value", "type": "quantitative", "scale": {"domain": [0.022, 0.035], "nice": false, "zero": false}}, "size": {"field": "density", "type": "quantitative", "scale": {"range": [0, 25]}, "legend": null}}}]},
            {"transform": [{"filter": {"field": "rate", "equal": 0.8}}, {"density": "q", "groupby": ["rate"], "steps": 200, "as": ["value", "density"]}], "resolve": {"scale": {"size": "independent"}}, "layer": [
              {"mark": {"type": "tick", "orient": "horizontal", "thickness": 2, "color": "#8f8f8f", "opacity": 1}, "encoding": {"x": {"field": "rate", "type": "ordinal"}, "y": {"field": "value", "type": "quantitative", "scale": {"domain": [0.022, 0.035], "nice": false, "zero": false}}, "size": {"field": "density", "type": "quantitative", "scale": {"range": [1.4, 26.4]}, "legend": null}}},
              {"mark": {"type": "tick", "orient": "horizontal", "thickness": 2.4, "color": "#C4E9F9", "opacity": 1}, "encoding": {"x": {"field": "rate", "type": "ordinal"}, "y": {"field": "value", "type": "quantitative", "scale": {"domain": [0.022, 0.035], "nice": false, "zero": false}}, "size": {"field": "density", "type": "quantitative", "scale": {"range": [0, 25]}, "legend": null}}}]},
            {"transform": [{"filter": {"field": "rate", "equal": 0.9}}, {"density": "q", "groupby": ["rate"], "steps": 200, "as": ["value", "density"]}], "resolve": {"scale": {"size": "independent"}}, "layer": [
              {"mark": {"type": "tick", "orient": "horizontal", "thickness": 2, "color": "#8f8f8f", "opacity": 1}, "encoding": {"x": {"field": "rate", "type": "ordinal"}, "y": {"field": "value", "type": "quantitative", "scale": {"domain": [0.022, 0.035], "nice": false, "zero": false}}, "size": {"field": "density", "type": "quantitative", "scale": {"range": [1.4, 26.4]}, "legend": null}}},
              {"mark": {"type": "tick", "orient": "horizontal", "thickness": 2.4, "color": "#D4BADA", "opacity": 1}, "encoding": {"x": {"field": "rate", "type": "ordinal"}, "y": {"field": "value", "type": "quantitative", "scale": {"domain": [0.022, 0.035], "nice": false, "zero": false}}, "size": {"field": "density", "type": "quantitative", "scale": {"range": [0, 25]}, "legend": null}}}]},
            {"transform": [{"filter": {"field": "rate", "equal": 1}}, {"density": "q", "groupby": ["rate"], "steps": 200, "as": ["value", "density"]}], "resolve": {"scale": {"size": "independent"}}, "layer": [
              {"mark": {"type": "tick", "orient": "horizontal", "thickness": 2, "color": "#8f8f8f", "opacity": 1}, "encoding": {"x": {"field": "rate", "type": "ordinal"}, "y": {"field": "value", "type": "quantitative", "scale": {"domain": [0.022, 0.035], "nice": false, "zero": false}}, "size": {"field": "density", "type": "quantitative", "scale": {"range": [1.4, 26.4]}, "legend": null}}},
              {"mark": {"type": "tick", "orient": "horizontal", "thickness": 2.4, "color": "#F3C6B3", "opacity": 1}, "encoding": {"x": {"field": "rate", "type": "ordinal"}, "y": {"field": "value", "type": "quantitative", "scale": {"domain": [0.022, 0.035], "nice": false, "zero": false}}, "size": {"field": "density", "type": "quantitative", "scale": {"range": [0, 25]}, "legend": null}}}]},
            {
              "transform": [{"aggregate": [{"op": "min", "field": "q", "as": "lo"}, {"op": "max", "field": "q", "as": "hi"}, {"op": "q1", "field": "q", "as": "b1"}, {"op": "q3", "field": "q", "as": "b3"}], "groupby": ["rate"]}],
              "layer": [
                {"mark": {"type": "rule", "color": "#808080", "strokeWidth": 1}, "encoding": {"x": {"field": "rate", "type": "ordinal"}, "y": {"field": "lo", "type": "quantitative", "scale": {"domain": [0.022, 0.035], "nice": false, "zero": false}}, "y2": {"field": "hi"}}},
                {"mark": {"type": "rule", "color": "#777777", "strokeWidth": 1.8}, "encoding": {"x": {"field": "rate", "type": "ordinal"}, "y": {"field": "b1", "type": "quantitative", "scale": {"domain": [0.022, 0.035], "nice": false, "zero": false}}, "y2": {"field": "b3"}}}
              ]
            },
            {
              "transform": [
                {"window": [{"op": "count", "as": "one"}], "frame": [0, 0], "groupby": ["rate"]},
                {"stack": "one", "groupby": ["rate", "q"], "offset": "center", "as": ["s0", "s1"]}
              ],
              "mark": {"type": "circle", "size": 65, "opacity": 0.42, "xOffset": {"expr": "(datum.s0 - 3.5) * 3.0"}},
              "encoding": {
                "x": {"field": "rate", "type": "ordinal", "scale": {"type": "band", "paddingInner": 0, "paddingOuter": 0.2405, "align": 1},
                  "axis": {"title": "Mutation rate", "labelAngle": 0, "tickSize": -4, "labelPadding": 18, "labelFontSize": 13.5, "titleFontSize": 14.8, "titleFontWeight": "normal", "titlePadding": 8}},
                "y": {"field": "q", "type": "quantitative", "scale": {"domain": [0.022, 0.035], "nice": false, "zero": false},
                  "axis": {"title": "Normalized solution quality (Q′)", "values": [0.022, 0.024, 0.026, 0.028, 0.03, 0.032, 0.034], "format": ".3~f", "tickSize": -4, "labelPadding": 9, "labelFontSize": 13.5, "titleFontSize": 14.8, "titleFontWeight": "normal", "titlePadding": 6}},
                "color": {"field": "rate", "type": "nominal", "legend": null, "scale": {"domain": [0, 0.1, 0.2, 0.3, 0.4, 0.5, 0.6, 0.7, 0.8, 0.9, 1], "range": ["#0072BD", "#4DBEEE", "#7E2F8E", "#D95319", "#A2142F", "#77AC30", "#EDB120", "#0072BD", "#4DBEEE", "#7E2F8E", "#D95319"]}}
              }
            },
            {
              "transform": [{"aggregate": [{"op": "median", "field": "q", "as": "med"}], "groupby": ["rate"]}],
              "mark": {"type": "point", "filled": true, "fill": "#ffffff", "stroke": "#7a7a7a", "strokeWidth": 1, "size": 70, "opacity": 1},
              "encoding": {"x": {"field": "rate", "type": "ordinal"}, "y": {"field": "med", "type": "quantitative", "scale": {"domain": [0.022, 0.035], "nice": false, "zero": false}}}
            }
          ]
        }
      ]
    }
  ]
}
